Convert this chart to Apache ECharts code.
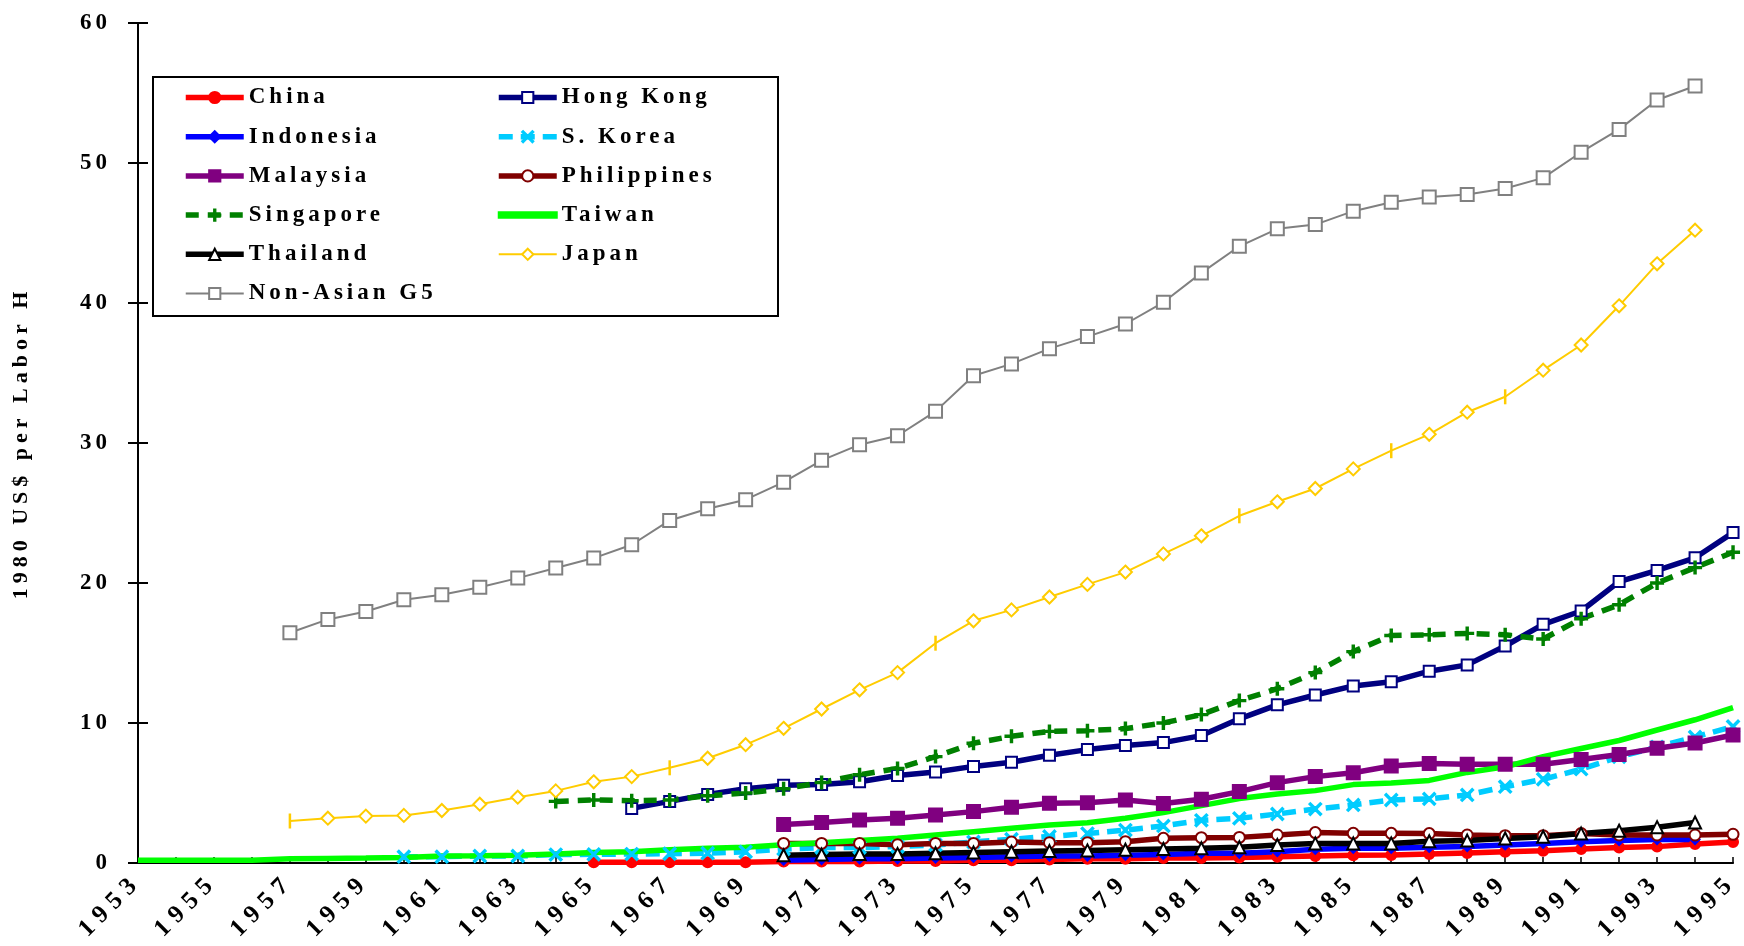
<!DOCTYPE html>
<html><head><meta charset="utf-8">
<script src="https://cdn.jsdelivr.net/npm/echarts@6/dist/echarts.min.js"></script>
<style>html,body{margin:0;padding:0;background:#fff}#c{width:1744px;height:946px}</style>
</head><body><div id="c"></div>
<script>
// ---------- data ----------
const years = ['1953','1954','1955','1956','1957','1958','1959','1960','1961','1962','1963','1964','1965','1966','1967','1968','1969','1970','1971','1972','1973','1974','1975','1976','1977','1978','1979','1980','1981','1982','1983','1984','1985','1986','1987','1988','1989','1990','1991','1992','1993','1994','1995'];
const yTicks = [0,10,20,30,40,50,60];

const china = {start:'1965', values:[0.05,0.05,0.05,0.05,0.05,0.1,0.1,0.1,0.15,0.15,0.2,0.2,0.25,0.3,0.3,0.35,0.35,0.4,0.45,0.5,0.55,0.57,0.64,0.72,0.8,0.88,1.0,1.1,1.17,1.35,1.5]};
const hongKong = {start:'1966', values:[3.9,4.4,4.9,5.3,5.55,5.6,5.8,6.25,6.5,6.9,7.2,7.7,8.1,8.4,8.6,9.1,10.3,11.3,12.0,12.65,12.95,13.7,14.15,15.5,17.05,18.0,20.1,20.9,21.8,23.6]};
const indonesia = {start:'1970', values:[0.2,0.25,0.3,0.3,0.35,0.4,0.45,0.5,0.5,0.55,0.6,0.69,0.69,0.81,0.98,1.05,1.05,1.12,1.17,1.29,1.4,1.52,1.6,1.67,1.67]};
const sKorea = {start:'1960', values:[0.45,0.45,0.5,0.5,0.6,0.62,0.64,0.66,0.7,0.8,1.0,1.1,1.1,1.17,1.29,1.5,1.7,1.9,2.1,2.35,2.65,3.05,3.19,3.5,3.85,4.15,4.5,4.58,4.86,5.45,5.98,6.7,7.58,8.3,9.0,9.75]};
const malaysia = {start:'1970', values:[2.75,2.9,3.07,3.2,3.43,3.67,3.98,4.26,4.3,4.5,4.25,4.55,5.1,5.74,6.17,6.45,6.93,7.1,7.05,7.05,7.05,7.4,7.75,8.2,8.57,9.14]};
const philippines = {start:'1970', values:[1.4,1.4,1.4,1.3,1.4,1.4,1.5,1.45,1.45,1.52,1.76,1.81,1.83,2.0,2.17,2.12,2.12,2.1,2.0,1.95,1.95,2.1,2.0,2.0,2.0,2.05]};
const singapore = {start:'1964', values:[4.4,4.5,4.45,4.5,4.8,5.0,5.3,5.75,6.3,6.75,7.6,8.55,9.05,9.4,9.45,9.6,10.0,10.6,11.6,12.45,13.6,15.1,16.25,16.3,16.4,16.3,16.0,17.45,18.45,20.0,21.1,22.2]};
const taiwan = {start:'1953', values:[0.2,0.2,0.2,0.2,0.3,0.33,0.35,0.4,0.5,0.52,0.55,0.65,0.75,0.8,0.95,1.05,1.12,1.3,1.45,1.6,1.76,2.0,2.24,2.48,2.71,2.88,3.19,3.6,4.1,4.6,4.93,5.17,5.6,5.72,5.9,6.47,6.87,7.6,8.18,8.75,9.5,10.23,11.1]};
const thailand = {start:'1970', values:[0.55,0.6,0.65,0.65,0.7,0.75,0.8,0.85,0.9,0.95,1.0,1.05,1.12,1.29,1.4,1.4,1.4,1.55,1.6,1.75,1.87,2.1,2.3,2.56,2.89]};
const japan = {start:'1957', values:[3.0,3.2,3.35,3.4,3.75,4.2,4.7,5.15,5.8,6.17,6.8,7.48,8.45,9.62,11.0,12.37,13.6,15.7,17.3,18.08,19.0,19.9,20.78,22.08,23.37,24.8,25.8,26.75,28.15,29.45,30.62,32.2,33.3,35.2,37.0,39.8,42.8,45.2]};
const nonAsianG5 = {start:'1957', values:[16.45,17.4,17.96,18.8,19.16,19.7,20.35,21.07,21.78,22.73,24.47,25.3,25.95,27.2,28.76,29.88,30.52,32.26,34.8,35.65,36.74,37.6,38.5,40.05,42.15,44.05,45.3,45.6,46.56,47.2,47.57,47.75,48.18,48.94,50.77,52.4,54.5,55.5]};
const japanTickMarkYears = ['1957','1967','1974','1982','1986','1989'];

// ---------- letter spacing for the wide serif text ----------
(function(){
  const proto = CanvasRenderingContext2D.prototype;
  const orig = proto.fillText;
  proto.fillText = function(t, x, y, w){
    const f = this.font || '';
    let ls = '0px';
    if (f.indexOf('LegendSerif') >= 0) ls = '4px';
    else if (f.indexOf('YSerif') >= 0) ls = '4px';
    else if (f.indexOf('XSerif') >= 0) ls = '7px';
    else if (f.indexOf('NameSerif') >= 0) ls = '5px';
    try { this.letterSpacing = ls; } catch(e) {}
    const r = (w === undefined) ? orig.call(this, t, x, y) : orig.call(this, t, x, y, w);
    try { this.letterSpacing = '0px'; } catch(e) {}
    return r;
  };
})();
const LEG_FONT = "LegendSerif, 'Liberation Serif', 'Times New Roman', serif";
const Y_FONT = "YSerif, 'Liberation Serif', 'Times New Roman', serif";
const X_FONT = "XSerif, 'Liberation Serif', 'Times New Roman', serif";
const NAME_FONT = "NameSerif, 'Liberation Serif', 'Times New Roman', serif";

function pad(s){
  const i0 = years.indexOf(s.start);
  return years.map((y,i)=> (i>=i0 && i-i0 < s.values.length) ? s.values[i-i0] : null);
}
const PLUS = 'path://M4.4,0H5.6V4.4H10V5.6H5.6V10H4.4V5.6H0V4.4H4.4Z';
const CROSS = 'path://M0,0.85L0.85,0L5,4.15L9.15,0L10,0.85L5.85,5L10,9.15L9.15,10L5,5.85L0.85,10L0,9.15L4.15,5Z';
const LW = 5.5;

function mk(name, src, color, opt){
  return Object.assign({
    name: name, type:'line', data: pad(src), color: color,
    lineStyle:{color: color, width: LW},
    symbolSize: 11, showAllSymbol: true, connectNulls:false,
    itemStyle:{color: color, borderColor: color, borderWidth: 2},
    emphasis:{disabled:true}, z: 3
  }, opt || {});
}

const japanData = pad(japan).map((v,i)=> (v!==null && japanTickMarkYears.indexOf(years[i])>=0)
  ? {value:v, symbol:'rect', symbolSize:[2.5,15], itemStyle:{color:'#FFCC00', borderWidth:0}} : v);

const series = [
  mk('China', china, '#FF0000', {symbol:'circle', symbolSize:10}),
  mk('Hong Kong', hongKong, '#000080', {symbol:'emptyRect', symbolSize:11}),
  mk('Indonesia', indonesia, '#0000FF', {symbol:'diamond', symbolSize:9}),
  mk('S. Korea', sKorea, '#00CCFF', {symbol:CROSS, symbolSize:12, lineStyle:{color:'#00CCFF', width:LW, type:[14,8]}}),
  mk('Malaysia', malaysia, '#800080', {symbol:'rect', symbolSize:13}),
  mk('Philippines', philippines, '#800000', {symbol:'emptyCircle', symbolSize:11}),
  mk('Singapore', singapore, '#008000', {symbol:PLUS, symbolSize:12, lineStyle:{color:'#008000', width:LW, type:[13,9]}}),
  mk('Taiwan', taiwan, '#00FF00', {symbol:'none'}),
  mk('Thailand', thailand, '#000000', {symbol:'emptyTriangle', symbolSize:12}),
  Object.assign(mk('Japan', japan, '#FFCC00', {symbol:'emptyDiamond', symbolSize:13, lineStyle:{color:'#FFCC00', width:2}}), {data: japanData}),
  mk('Non-Asian G5', nonAsianG5, '#808080', {symbol:'emptyRect', symbolSize:13, lineStyle:{color:'#808080', width:2}})
];

const legendText = {fontFamily: LEG_FONT, fontWeight:'bold', fontSize:23, color:'#000', lineHeight:22};
const legendCommon = {
  orient:'vertical', top:81, itemWidth:58, itemHeight:14, itemGap:16.2,
  textStyle: legendText, selectedMode:false, lineStyle:{width:'inherit'}
};
const option = {
  animation:false,
  backgroundColor:'#fff',
  grid:{left:138, right:4, top:23, bottom:83, containLabel:false},
  xAxis:{
    type:'category', data: years, boundaryGap:false,
    axisLine:{show:true, lineStyle:{color:'#000', width:2}},
    axisTick:{show:true, inside:true, length:6, interval:0, lineStyle:{color:'#000', width:1.5}},
    axisLabel:{interval:1, rotate:45, margin:15, fontFamily:X_FONT, fontWeight:'bold', fontSize:25, color:'#000'},
    splitLine:{show:false}
  },
  yAxis:[{
    type:'value', min:yTicks[0], max:yTicks[yTicks.length-1], interval:10,
    axisLine:{show:true, lineStyle:{color:'#000', width:2}},
    axisTick:{show:true, inside:false, length:10, lineStyle:{color:'#000', width:2}},
    axisLabel:{margin:27, fontFamily:Y_FONT, fontWeight:'bold', fontSize:23, color:'#000'},
    splitLine:{show:false},
    name:'1980 US$ per Labor H', nameLocation:'middle', nameRotate:90, nameGap:106,
    nameTextStyle:{fontFamily:NAME_FONT, fontWeight:'bold', fontSize:22, color:'#000'}
  },{
    type:'value', min:yTicks[0], max:yTicks[yTicks.length-1], interval:10, position:'left',
    axisLine:{show:false},
    axisTick:{show:true, inside:true, length:10, lineStyle:{color:'#000', width:2}},
    axisLabel:{show:false}, splitLine:{show:false}
  }],
  legend:[Object.assign({}, legendCommon, {
    left:178,
    data:['China','Indonesia','Malaysia','Singapore','Thailand','Non-Asian G5']
  }), Object.assign({}, legendCommon, {
    left:491,
    data:['Hong Kong','S. Korea','Philippines',{name:'Taiwan', icon:'path://M0,0H58V5.5H0Z'},'Japan']
  })],
  graphic:[{
    type:'rect', left:152, top:76, z:-1, silent:true,
    shape:{width:625, height:239},
    style:{fill:'#fff', stroke:'#000', lineWidth:2}
  }],
  series: series
};
const chart = echarts.init(document.getElementById('c'), null, {renderer:'canvas'});
chart.setOption(option);
</script>
</body></html>
